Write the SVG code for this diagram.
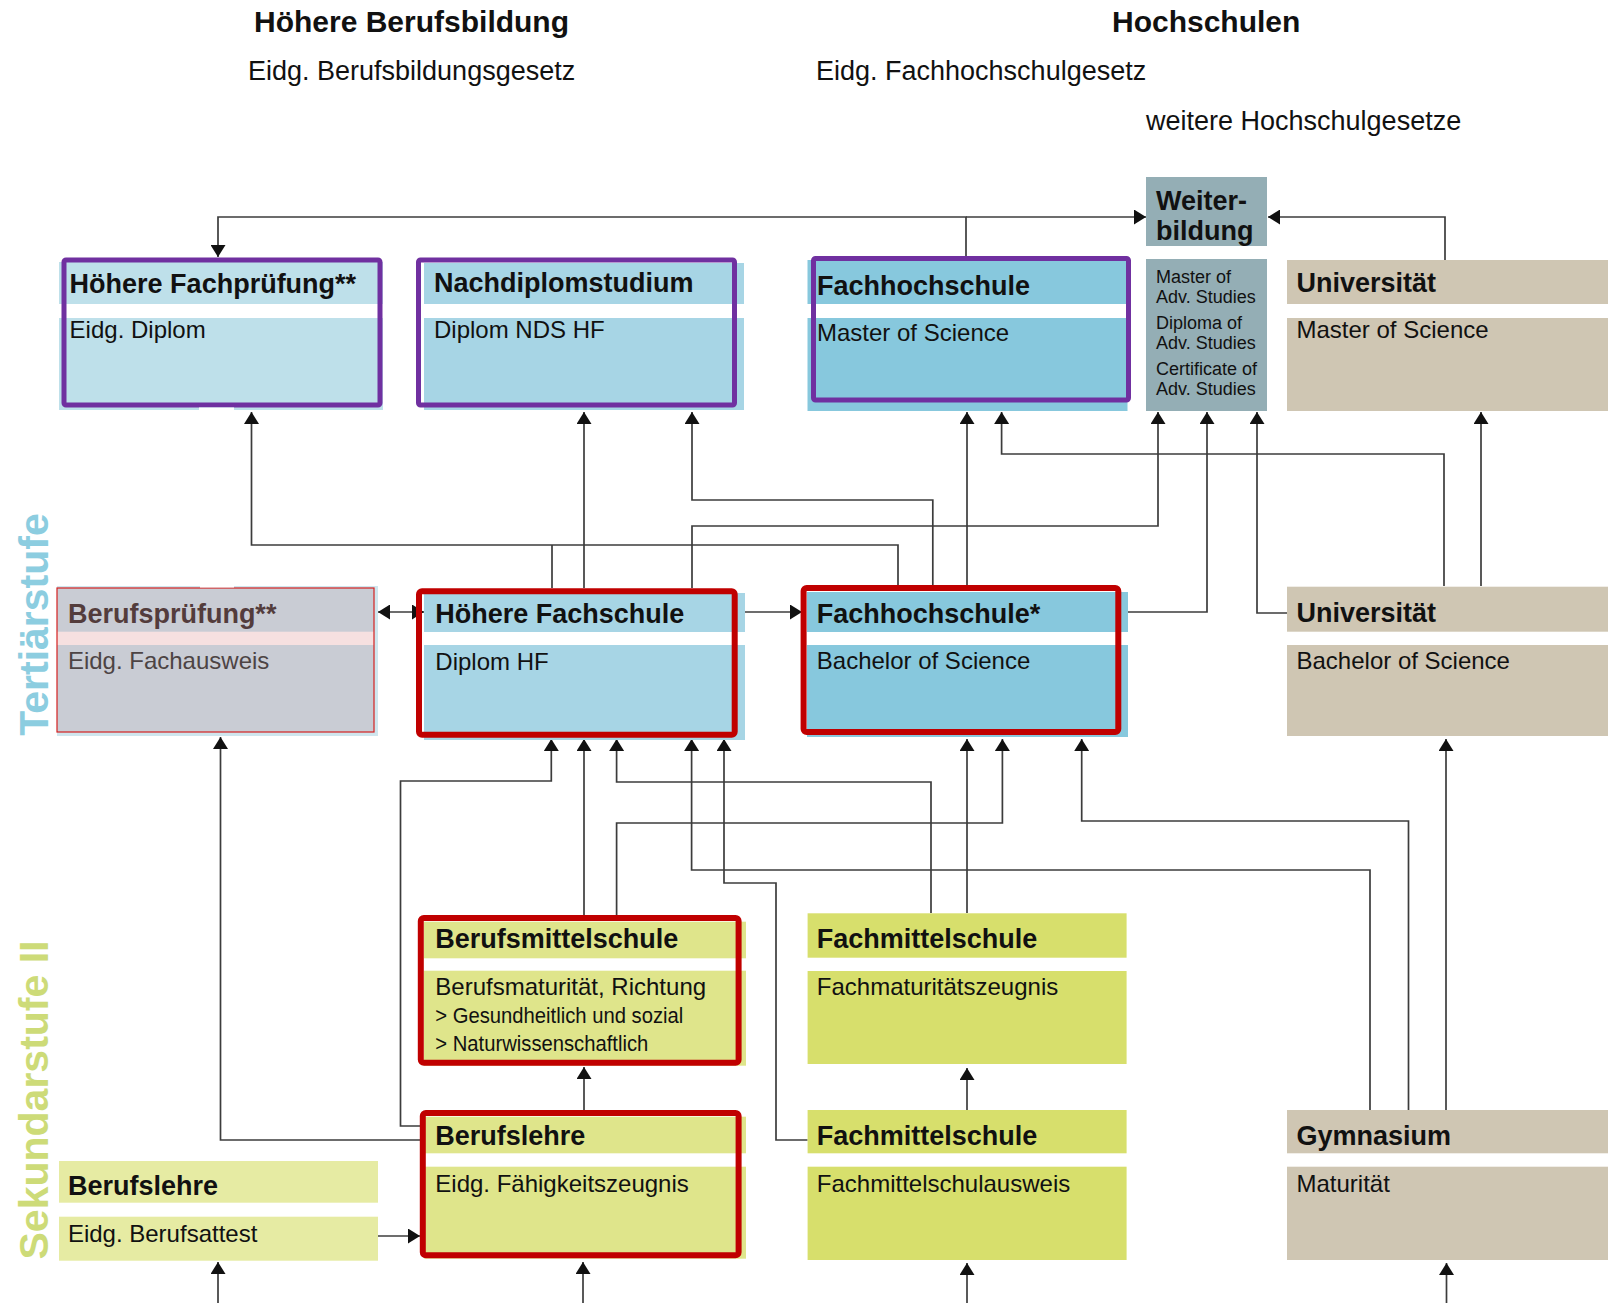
<svg xmlns="http://www.w3.org/2000/svg" width="1608" height="1303" viewBox="0 0 1608 1303">
<defs>
<marker id="ah" viewBox="0 0 12 15" markerWidth="12" markerHeight="15" refX="12" refY="7.5" orient="auto-start-reverse" markerUnits="userSpaceOnUse"><path d="M0,0 L12,7.5 L0,15 z" fill="#111"/></marker>
</defs>
<style>
text{font-family:"Liberation Sans",Arial,Helvetica,sans-serif;fill:#111}
.t1{font-size:30px;font-weight:bold}
.t2{font-size:27px}
.hd{font-size:27px;font-weight:bold}
.bd{font-size:24px}
.sm{font-size:18px}
.sub{font-size:22px}
.side{font-size:41px;font-weight:bold}
.tert{fill:#8ccde0}
.sek{fill:#cddb78}
.ln{fill:none;stroke:#3c3c3c;stroke-width:1.7}
.pur{fill:none;stroke:#7030a0;stroke-width:5}
.red{fill:none;stroke:#c00000;stroke-width:6}
.lb{fill:#a7d5e5}.lb2{fill:#bee0ea}.db{fill:#87c8dd}.gb{fill:#94aeb5}.be{fill:#cfc6b3}
.gr{fill:#c9ccd4}.yg{fill:#dfe58b}.yg2{fill:#d7df6c}.yg3{fill:#e6eba3}
.bp{fill:#533c3c}.bp2{fill:#4d4444}
</style>
<rect width="1608" height="1303" fill="#fff"/>

<g id="headers">
<text class="t1" x="254" y="32">Höhere Berufsbildung</text>
<text class="t1" x="1112" y="32">Hochschulen</text>
<text class="t2" x="248" y="80">Eidg. Berufsbildungsgesetz</text>
<text class="t2" x="816" y="80">Eidg. Fachhochschulgesetz</text>
<text class="t2" x="1146" y="130">weitere Hochschulgesetze</text>
</g>

<g id="stufen">
<text class="side tert" transform="translate(47.5,624.5) rotate(-90)" text-anchor="middle">Tertiärstufe</text>
<text class="side sek" transform="translate(47.5,1100) rotate(-90)" text-anchor="middle">Sekundarstufe II</text>
</g>

<g id="connectors">
<path class="ln" d="M966,258 V217 H218 V257" marker-end="url(#ah)"/>
<path class="ln" d="M966,217 H1146" marker-end="url(#ah)"/>
<path class="ln" d="M1445,260 V217 H1268" marker-end="url(#ah)"/>
<path class="ln" d="M898,585 V545 H251.5 V412" marker-end="url(#ah)"/>
<path class="ln" d="M552,588 V545"/>
<path class="ln" d="M584,588 V412" marker-end="url(#ah)"/>
<path class="ln" d="M932.8,585 V500 H692 V412" marker-end="url(#ah)"/>
<path class="ln" d="M692,588 V526 H1158 V412" marker-end="url(#ah)"/>
<path class="ln" d="M967,585 V412" marker-end="url(#ah)"/>
<path class="ln" d="M1444,586 V454 H1001.6 V412" marker-end="url(#ah)"/>
<path class="ln" d="M1128,612 H1207 V412" marker-end="url(#ah)"/>
<path class="ln" d="M1287,613 H1257 V412" marker-end="url(#ah)"/>
<path class="ln" d="M1481,586 V412" marker-end="url(#ah)"/>
<path class="ln" d="M378,612 H424" marker-start="url(#ah)" marker-end="url(#ah)"/>
<path class="ln" d="M745,612 H802" marker-end="url(#ah)"/>
<path class="ln" d="M420,1126 H400.5 V781 H551.3 V739" marker-end="url(#ah)"/>
<path class="ln" d="M584,915 V739" marker-end="url(#ah)"/>
<path class="ln" d="M931,913 V782 H616.6 V739" marker-end="url(#ah)"/>
<path class="ln" d="M616.6,915 V823 H1002.4 V739" marker-end="url(#ah)"/>
<path class="ln" d="M1370,1110 V870 H691.6 V739" marker-end="url(#ah)"/>
<path class="ln" d="M807.6,1140 H776 V883 H724 V739" marker-end="url(#ah)"/>
<path class="ln" d="M967,913 V739" marker-end="url(#ah)"/>
<path class="ln" d="M1408.5,1110 V821 H1081.7 V739" marker-end="url(#ah)"/>
<path class="ln" d="M1446,1110 V739" marker-end="url(#ah)"/>
<path class="ln" d="M420,1140 H220.5 V737" marker-end="url(#ah)"/>
<path class="ln" d="M584,1110 V1067" marker-end="url(#ah)"/>
<path class="ln" d="M967,1110 V1068" marker-end="url(#ah)"/>
<path class="ln" d="M378,1236 H420" marker-end="url(#ah)"/>
<path class="ln" d="M218,1303 V1262" marker-end="url(#ah)"/>
<path class="ln" d="M583,1303 V1262" marker-end="url(#ah)"/>
<path class="ln" d="M967,1303 V1263" marker-end="url(#ah)"/>
<path class="ln" d="M1446.5,1303 V1263" marker-end="url(#ah)"/>
</g>

<g id="hoehere-fachpruefung">
<rect class="lb2" x="59" y="262" width="324" height="42"/>
<rect class="lb2" x="59" y="318" width="324" height="92"/>
<rect class="pur" x="64" y="260" width="316" height="145" rx="2"/>
<rect fill="#fff" x="199" y="407.5" width="35" height="3.5"/>
<text class="hd" x="69.6" y="292.7">Höhere Fachprüfung**</text>
<text class="bd" x="69.6" y="338.3">Eidg. Diplom</text>
</g>

<g id="nachdiplomstudium">
<rect class="lb" x="424" y="263" width="320" height="41"/>
<rect class="lb" x="424" y="318" width="320" height="92"/>
<rect class="pur" x="418.5" y="260" width="316" height="145" rx="2"/>
<text class="hd" x="434" y="292">Nachdiplomstudium</text>
<text class="bd" x="434" y="338">Diplom NDS HF</text>
</g>

<g id="fachhochschule-master">
<rect class="db" x="807.5" y="260" width="320" height="44"/>
<rect class="db" x="807.5" y="318" width="320" height="93"/>
<rect class="pur" x="813.5" y="258.5" width="315" height="141.5" rx="2"/>
<text class="hd" x="817" y="295">Fachhochschule</text>
<text class="bd" x="817" y="341">Master of Science</text>
</g>

<g id="weiterbildung">
<rect class="gb" x="1146" y="177" width="121" height="69"/>
<rect class="gb" x="1146" y="259" width="121" height="152"/>
<text class="hd" x="1156" y="210">Weiter-</text>
<text class="hd" x="1156" y="240">bildung</text>
<text class="sm" x="1156" y="283">Master of</text>
<text class="sm" x="1156" y="303">Adv. Studies</text>
<text class="sm" x="1156" y="329">Diploma of</text>
<text class="sm" x="1156" y="349">Adv. Studies</text>
<text class="sm" x="1156" y="375">Certificate of</text>
<text class="sm" x="1156" y="395">Adv. Studies</text>
</g>

<g id="universitaet-master">
<rect class="be" x="1287" y="260" width="321" height="44"/>
<rect class="be" x="1287" y="318" width="321" height="93"/>
<text class="hd" x="1296.5" y="291.7">Universität</text>
<text class="bd" x="1296.5" y="338">Master of Science</text>
</g>

<g id="berufspruefung">
<rect fill="#cfe6ee" x="57" y="586" width="321" height="150"/>
<rect class="gr" x="57" y="588" width="317" height="44"/>
<rect fill="#f6e0e0" x="57" y="631.7" width="317" height="13.3"/>
<rect class="gr" x="57" y="645" width="317" height="87"/>
<rect fill="none" stroke="#d42020" stroke-width="1.2" x="57" y="588" width="317" height="144"/>
<rect fill="#fff" x="200" y="584" width="34" height="3.5"/>
<text class="hd bp" x="67.9" y="622.7">Berufsprüfung**</text>
<text class="bd bp2" x="67.9" y="669.3">Eidg. Fachausweis</text>
</g>

<g id="hoehere-fachschule">
<rect class="lb" x="424" y="593" width="321" height="39"/>
<rect class="lb" x="424" y="645" width="321" height="95"/>
<rect class="red" x="419" y="591.3" width="315.7" height="143.4" rx="3"/>
<text class="hd" x="435.3" y="623.3">Höhere Fachschule</text>
<text class="bd" x="435.3" y="670">Diplom HF</text>
</g>

<g id="fachhochschule-bachelor">
<rect class="db" x="807" y="592" width="321" height="40"/>
<rect class="db" x="807" y="645" width="321" height="92"/>
<rect class="red" x="803.6" y="588" width="314.7" height="144" rx="3"/>
<text class="hd" x="816.8" y="623.3">Fachhochschule*</text>
<text class="bd" x="816.8" y="669.3">Bachelor of Science</text>
</g>

<g id="universitaet-bachelor">
<rect class="be" x="1287" y="586.7" width="321" height="45"/>
<rect class="be" x="1287" y="645" width="321" height="91"/>
<text class="hd" x="1296.5" y="621.7">Universität</text>
<text class="bd" x="1296.5" y="669">Bachelor of Science</text>
</g>

<g id="berufsmittelschule">
<rect class="yg" x="424" y="921.7" width="322" height="36.6"/>
<rect class="yg" x="424" y="970.7" width="322" height="95"/>
<rect class="red" x="420.8" y="918" width="317.8" height="144.7" rx="3"/>
<text class="hd" x="435.3" y="948.3">Berufsmittelschule</text>
<text class="bd" x="435.3" y="995">Berufsmaturität, Richtung</text>
<text class="sub" x="435.3" y="1023.3" textLength="248" lengthAdjust="spacingAndGlyphs">&gt; Gesundheitlich und sozial</text>
<text class="sub" x="435.3" y="1050.7" textLength="213" lengthAdjust="spacingAndGlyphs">&gt; Naturwissenschaftlich</text>
</g>

<g id="fachmittelschule-fm">
<rect class="yg2" x="807.6" y="913.3" width="319" height="44.4"/>
<rect class="yg2" x="807.6" y="971" width="319" height="93"/>
<text class="hd" x="816.8" y="948.3">Fachmittelschule</text>
<text class="bd" x="816.8" y="995">Fachmaturitätszeugnis</text>
</g>

<g id="berufslehre-efz">
<rect class="yg" x="424" y="1116.7" width="322" height="36.6"/>
<rect class="yg" x="424" y="1166.7" width="322" height="92"/>
<rect class="red" x="422.8" y="1113" width="315.8" height="142.3" rx="3"/>
<text class="hd" x="435.3" y="1145">Berufslehre</text>
<text class="bd" x="435.3" y="1191.7">Eidg. Fähigkeitszeugnis</text>
</g>

<g id="fachmittelschule-ausweis">
<rect class="yg2" x="807.6" y="1110" width="319" height="43.3"/>
<rect class="yg2" x="807.6" y="1166.7" width="319" height="93.3"/>
<text class="hd" x="816.8" y="1145">Fachmittelschule</text>
<text class="bd" x="816.8" y="1191.7">Fachmittelschulausweis</text>
</g>

<g id="gymnasium">
<rect class="be" x="1287" y="1110" width="321" height="43.3"/>
<rect class="be" x="1287" y="1166.7" width="321" height="93.3"/>
<text class="hd" x="1296.5" y="1145">Gymnasium</text>
<text class="bd" x="1296.5" y="1191.7">Maturität</text>
</g>

<g id="berufslehre-eba">
<rect class="yg3" x="59" y="1161" width="319" height="41.7"/>
<rect class="yg3" x="59" y="1216.7" width="319" height="44"/>
<text class="hd" x="67.9" y="1195">Berufslehre</text>
<text class="bd" x="67.9" y="1241.7">Eidg. Berufsattest</text>
</g>
</svg>
